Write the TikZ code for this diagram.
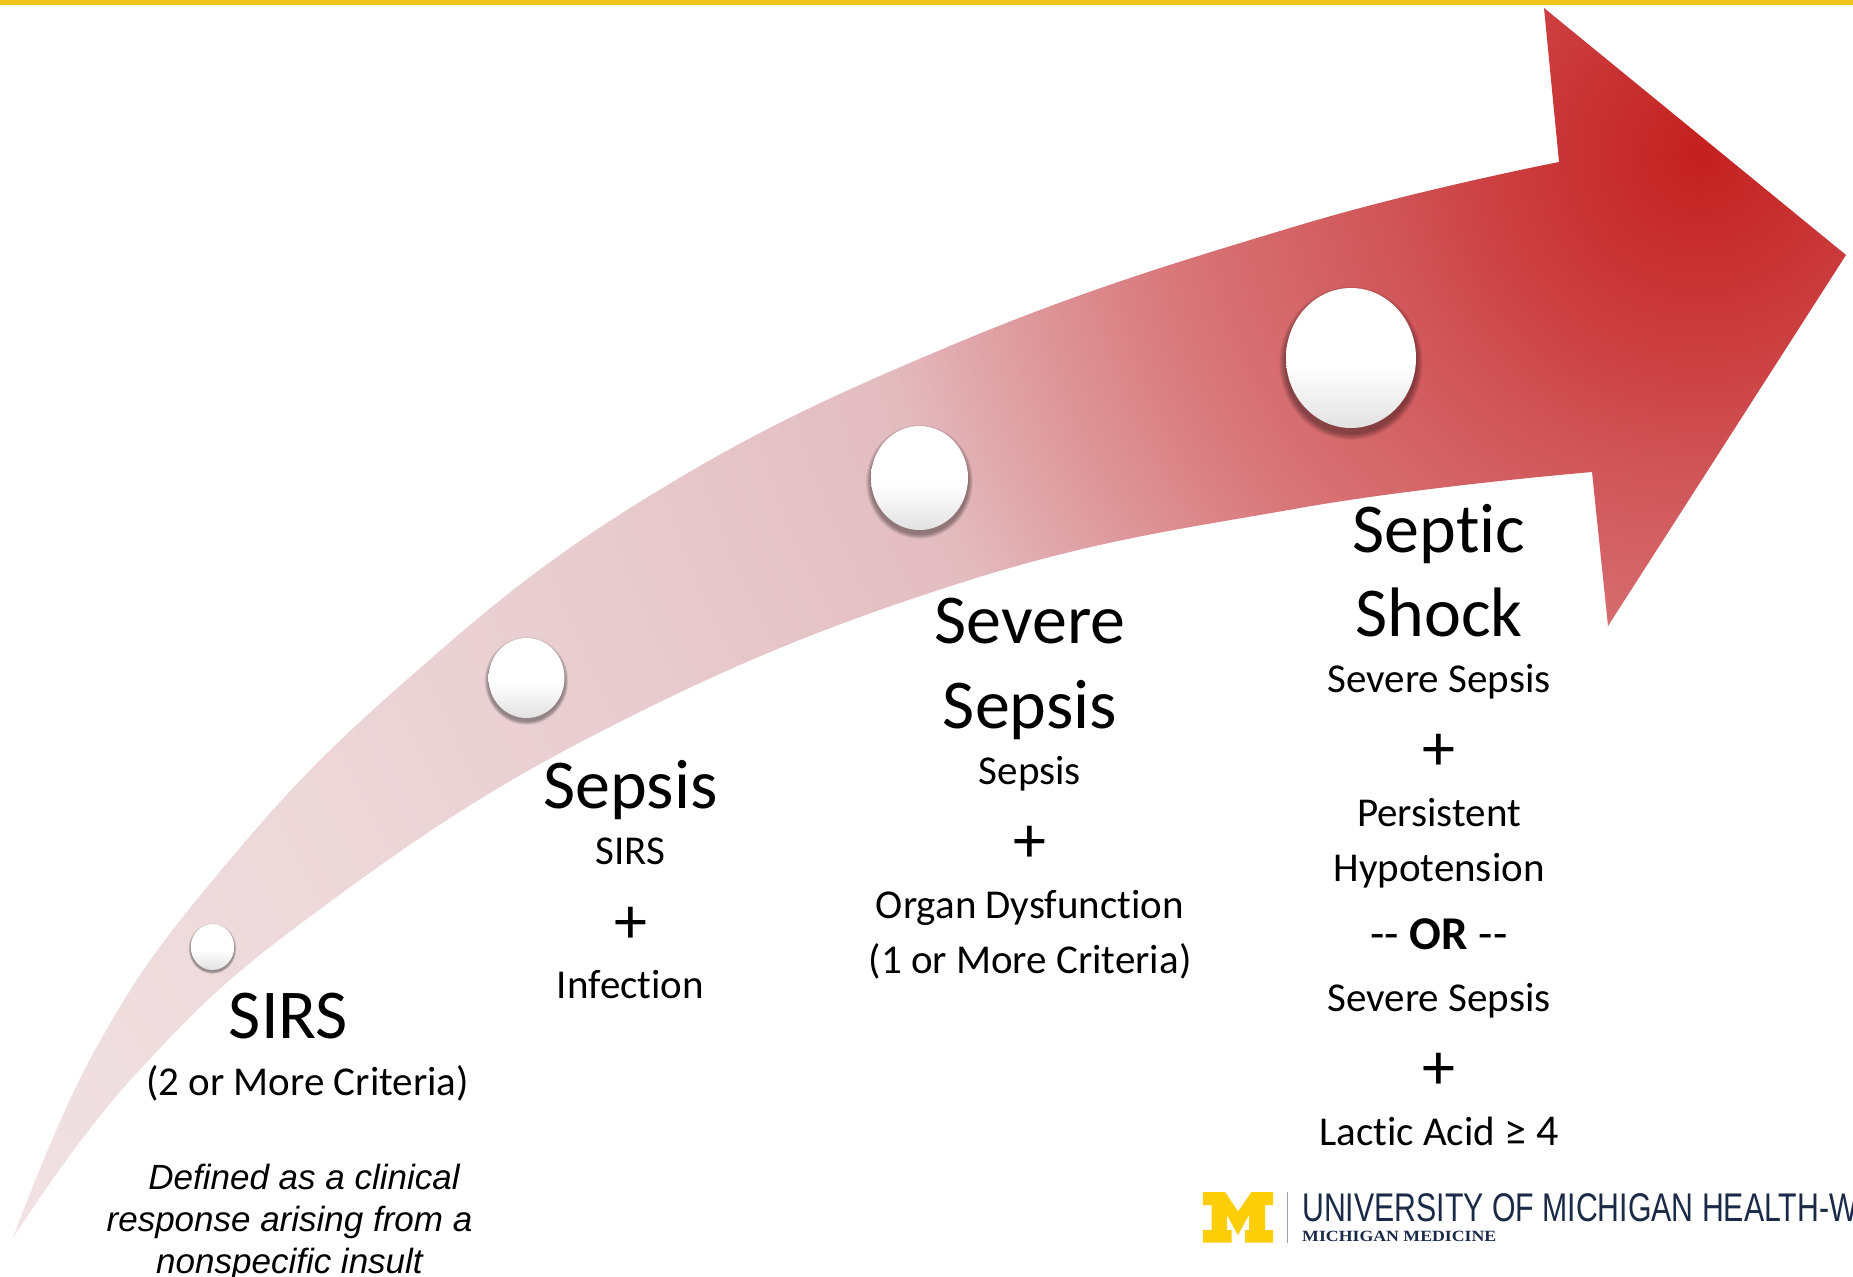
\documentclass[tikz,border=0pt]{standalone}
\usepackage{fontspec}
\setmainfont{Carlito}[Ligatures=CommonOff]
\newfontfamily\notefont{Liberation Sans}
\newfontfamily\logofont{Liberation Sans}
\newfontfamily\logoserif{Liberation Serif}
\usetikzlibrary{shapes,positioning,calc}
\definecolor{barYellow}{HTML}{F2C41A}
\definecolor{logoYellow}{HTML}{FBCE07}
\definecolor{logoBlue}{HTML}{1B2A47}
\definecolor{logoGrey}{HTML}{9AA0AA}
\definecolor{dotGrey}{HTML}{E2E2E2}
\definecolor{redA}{HTML}{C4201F}
\definecolor{redB}{HTML}{CC4042}
\definecolor{redC}{HTML}{D05558}
\definecolor{redD}{HTML}{D87578}
\definecolor{redE}{HTML}{DE9A9D}
\definecolor{redF}{HTML}{E3BCC0}
\definecolor{redG}{HTML}{E8CCCF}
\definecolor{redH}{HTML}{ECD6D8}
\definecolor{redI}{HTML}{F2E4E5}
\pgfdeclareradialshading{sepsisRed}{\pgfpoint{0bp}{0bp}}{%
  color(0bp)=(redA);color(2.5bp)=(redB);color(3.8bp)=(redC);color(6.35bp)=(redD);
  color(8.35bp)=(redE);color(10.05bp)=(redF);color(14.1bp)=(redG);color(17.85bp)=(redH);color(25bp)=(redI);color(50bp)=(redI)}
\pgfdeclareverticalshading{dotShade}{100bp}{%
  color(0bp)=(dotGrey);color(25bp)=(dotGrey);color(47bp)=(white);color(100bp)=(white)}
\tikzset{
  big/.style={anchor=base,font=\fontsize{70}{70}\selectfont},
  mid/.style={anchor=base,font=\fontsize{41}{41}\selectfont},
  plus/.style={anchor=base,font=\fontsize{66}{66}\selectfont},
  note/.style={anchor=base,font=\fontsize{35}{35}\notefont\itshape},
  dot/.style={shape=ellipse,inner sep=0pt,shading=dotShade},
}
% one stage marker with its soft shadow
\newcommand{\stagedot}[5]{%
  \foreach \s in {6,5,...,1}
    \fill[black,opacity=.07] (#2,#3+#4*.08) ellipse ({#4+\s*#4/60} and {#5+\s*#4/60});
  \node[dot,minimum width=2*#4,minimum height=2*#5] (#1) at (#2,#3) {};
}
\begin{document}
\begin{tikzpicture}[x=1pt,y=-1pt]
\useasboundingbox (0,0) rectangle (1853,1277);
\fill[white] (0,0) rectangle (1853,1277);
\fill[barYellow] (0,0) rectangle (1853,5);

% the arrow
\begin{scope}
\clip plot[smooth,tension=.7] coordinates {(13,1238) (95,1050) (213,880) (393,692) (643,500) (957,343) (1300,225) (1559,162)}
  -- (1544,8) -- (1846,255) -- (1608,626) -- (1592,472)
  -- plot[smooth,tension=.7] coordinates {(1592,472) (1300,508) (957,584) (600,732) (312,915) (134,1076) (13,1238)} -- cycle;
\path[shading=sepsisRed] (1700,155) circle (2100);
\end{scope}

\stagedot{dotSirs}{212.5}{947}{21.7}{23}
\stagedot{dotSepsis}{526.5}{678}{38}{40}
\stagedot{dotSevere}{919.5}{478}{48.5}{52}
\stagedot{dotShock}{1351}{358}{65}{70}

% SIRS
\node[big] (sirsTitle) at (288.5,1038) {SIRS};
\node[mid] (sirsCrit) at (307.5,1095) {(2 or More Criteria)};
\node[note] (sirsA) at (304,1189) {Defined as a clinical};
\node[note] (sirsB) at (289.5,1231) {response arising from a};
\node[note] (sirsC) at (289.5,1273) {nonspecific insult};

% Sepsis
\node[big] (sepsisTitle) at (630.5,808) {Sepsis};
\node[mid] (sepsisA) at (630.5,864) {SIRS};
\node[plus] (sepsisPlus) at (630.5,943) {+};
\node[mid] (sepsisB) at (630.5,998) {Infection};

% Severe Sepsis
\node[big] (severeA) at (1030,643) {Severe};
\node[big] (severeB) at (1030,728) {Sepsis};
\node[mid] (severeC) at (1030,784) {Sepsis};
\node[plus] (severePlus) at (1030,862) {+};
\node[mid] (severeD) at (1030,918) {Organ Dysfunction};
\node[mid] (severeE) at (1030,973) {(1 or More Criteria)};

% Septic Shock
\node[big] (shockA) at (1439,552) {Septic};
\node[big] (shockB) at (1439,636) {Shock};
\node[mid] (shockC) at (1439,692) {Severe Sepsis};
\node[plus] (shockPlus) at (1439,770) {+};
\node[mid] (shockD) at (1439,826) {Persistent};
\node[mid] (shockE) at (1439,881) {Hypotension};
\node[mid,font=\fontsize{47}{47}\selectfont] (shockF) at (1439,949) {-{}- \textbf{OR} -{}-};
\node[mid] (shockG) at (1439,1011) {Severe Sepsis};
\node[plus] (shockPlusB) at (1439,1089) {+};
\node[mid] (shockH) at (1439,1145) {Lactic Acid {\fontsize{44}{44}\selectfont ≥ 4}};

% logo
\fill[logoYellow] (1203,1192) -- (1225,1192) -- (1238,1211.5) -- (1251.5,1192) -- (1273,1192) -- (1273,1205) -- (1265,1205)
  -- (1265,1230) -- (1273,1230) -- (1273,1242.5) -- (1245,1242.5) -- (1245,1230) -- (1249,1230) -- (1249,1215) -- (1238,1235)
  -- (1227,1215) -- (1227,1230) -- (1231.5,1230) -- (1231.5,1242.5) -- (1203,1242.5) -- (1203,1230) -- (1211.5,1230) -- (1211.5,1205) -- (1203,1205) -- cycle;
\draw[logoGrey,line width=.8pt] (1287,1192) -- (1287,1242.5);
\begin{scope}
\clip (0,0) rectangle (1853,1277);
\node[anchor=base west,inner sep=0pt,text=logoBlue] (logoName) at (1302,1221.5)
  {\scalebox{.756}[1]{\fontsize{40}{40}\logofont UNIVERSITY OF MICHIGAN HEALTH-W}};
\node[anchor=base west,inner sep=0pt,text=logoBlue] (logoSub) at (1302,1241)
  {\scalebox{1.14}[1]{\fontsize{15.6}{15.6}\logoserif\bfseries MICHIGAN MEDICINE}};
\end{scope}
\end{tikzpicture}
\end{document}
